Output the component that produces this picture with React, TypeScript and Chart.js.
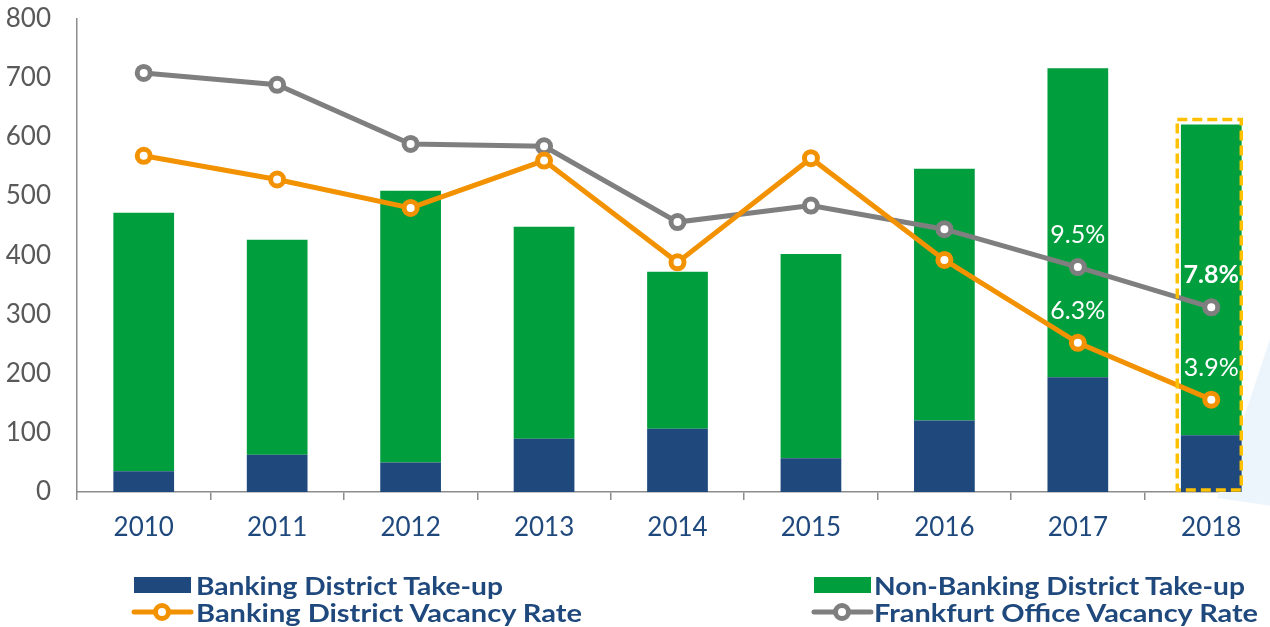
import React, { useEffect, useRef } from 'react';
import { Chart, registerables } from 'chart.js';

Chart.register(...registerables);

const years = ['2010', '2011', '2012', '2013', '2014', '2015', '2016', '2017', '2018'];
const bankingTakeUp = [35, 63, 50, 90, 107, 57, 121, 194, 96];
const nonBankingTakeUp = [437, 363, 459, 358, 265, 345, 425, 522, 525];
const bankingVacancy = [14.2, 13.2, 12.0, 14.0, 9.7, 14.1, 9.8, 6.3, 3.9];
const frankfurtVacancy = [17.7, 17.2, 14.7, 14.6, 11.4, 12.1, 11.1, 9.5, 7.8];
const yMax = 800;
const yStep = 100;
const rateMax = 20;
// which points carry a value label, and whether it is bold
const labelledPoints = [
  { series: 'frankfurt', index: 7, bold: false },
  { series: 'frankfurt', index: 8, bold: true },
  { series: 'banking', index: 7, bold: false },
  { series: 'banking', index: 8, bold: false },
];
const highlightIndex = 8;

const BLUE = '#1F497D';
const GREEN = '#009E3D';
const ORANGE = '#F39200';
const GREY = '#7F7F7F';
const AXIS = '#8C8C8C';
const FONT = 'Lato, "Open Sans", sans-serif';
const PLOT_TOP = 18.5;

export default function App() {
  const ref = useRef<HTMLCanvasElement | null>(null);

  useEffect(() => {
    if (!ref.current) return;

    const decoPlugin = {
      id: 'deco',
      beforeDatasetsDraw(chart: any) {
        const ctx = chart.ctx;
        ctx.save();
        ctx.fillStyle = '#EDF5FC';
        ctx.beginPath();
        ctx.moveTo(1272, 333);
        ctx.lineTo(1217, 498);
        ctx.lineTo(1272, 506);
        ctx.closePath();
        ctx.fill();
        ctx.restore();
      },
      afterDatasetsDraw(chart: any) {
        const ctx = chart.ctx;
        const xs = chart.scales.x;
        const ys = chart.scales.y;
        const y1 = chart.scales.y1;
        // highlight box around the last bar
        const cx = xs.getPixelForValue(highlightIndex);
        const total = bankingTakeUp[highlightIndex] + nonBankingTakeUp[highlightIndex];
        const top = ys.getPixelForValue(total) - 5;
        const bottom = ys.getPixelForValue(0) - 2;
        ctx.save();
        ctx.strokeStyle = '#FFC000';
        ctx.lineWidth = 3.5;
        ctx.setLineDash([10, 5]);
        ctx.strokeRect(cx - 34, top, 64, bottom - top);
        ctx.restore();
        // value labels
        ctx.save();
        ctx.fillStyle = '#FFFFFF';
        ctx.textAlign = 'center';
        ctx.textBaseline = 'middle';
        labelledPoints.forEach((p) => {
          const arr = p.series === 'frankfurt' ? frankfurtVacancy : bankingVacancy;
          const v = arr[p.index];
          ctx.font = `${p.bold ? 'bold ' : ''}25px ${FONT}`;
          ctx.fillText(`${v.toFixed(1)}%`, xs.getPixelForValue(p.index), y1.getPixelForValue(v) - 32);
        });
        ctx.restore();
      },
    };

    const chart = new Chart(ref.current, {
      type: 'bar',
      data: {
        labels: years,
        datasets: [
          {
            type: 'line',
            label: 'Frankfurt Office Vacancy Rate',
            data: frankfurtVacancy,
            yAxisID: 'y1',
            borderColor: GREY,
            borderWidth: 5,
            pointRadius: 6.5,
            pointBorderWidth: 5,
            pointBackgroundColor: '#FFFFFF',
            pointBorderColor: GREY,
            tension: 0,
            order: 1,
          } as any,
          {
            type: 'line',
            label: 'Banking District Vacancy Rate',
            data: bankingVacancy,
            yAxisID: 'y1',
            borderColor: ORANGE,
            borderWidth: 5,
            pointRadius: 6.5,
            pointBorderWidth: 5,
            pointBackgroundColor: '#FFFFFF',
            pointBorderColor: ORANGE,
            tension: 0,
            order: 0,
          } as any,
          {
            label: 'Banking District Take-up',
            data: bankingTakeUp,
            backgroundColor: BLUE,
            stack: 's',
            order: 3,
          },
          {
            label: 'Non-Banking District Take-up',
            data: nonBankingTakeUp,
            backgroundColor: GREEN,
            stack: 's',
            order: 3,
          },
        ],
      },
      options: {
        responsive: false,
        animation: false,
        layout: { autoPadding: false, padding: { top: 0, bottom: 75, left: 0, right: 12 } },
        datasets: { bar: { categoryPercentage: 1, barPercentage: 0.455 } },
        plugins: { legend: { display: false }, tooltip: { enabled: false } },
        scales: {
          x: {
            stacked: true,
            offset: true,
            grid: {
              display: true,
              drawOnChartArea: false,
              drawTicks: true,
              tickLength: 8,
              color: AXIS,
              lineWidth: 1.5,
              offset: true,
            },
            border: { display: true, color: AXIS, width: 1.5 },
            ticks: { color: BLUE, font: { family: FONT, size: 26 }, padding: 12 },
            afterFit: (s: any) => { s.height = 60; },
          },
          y: {
            stacked: true,
            min: 0,
            max: yMax,
            ticks: { stepSize: yStep, color: '#595959', font: { family: FONT, size: 26 }, padding: 26 },
            grid: { display: false, drawTicks: false },
            border: { display: true, color: AXIS, width: 1.5 },
            afterFit: (s: any) => {
              s.width = 77;
              s.paddingTop = PLOT_TOP;
              s.paddingBottom = 0;
            },
          },
          y1: { display: false, min: 0, max: rateMax },
        },
      },
      plugins: [decoPlugin],
    });
    return () => chart.destroy();
  }, []);

  const legendItems = [
    { text: 'Banking District Take-up', kind: 'box', color: BLUE, x: 134, textX: 196, y: 585, len: 307 },
    { text: 'Non-Banking District Take-up', kind: 'box', color: GREEN, x: 814, textX: 874, y: 585, len: 371 },
    { text: 'Banking District Vacancy Rate', kind: 'line', color: ORANGE, x: 134, textX: 196, y: 612, len: 386 },
    { text: 'Frankfurt Office Vacancy Rate', kind: 'line', color: GREY, x: 814, textX: 874, y: 612, len: 384 },
  ];

  return (
    <div
      style={{
        position: 'fixed',
        left: 0,
        top: 0,
        width: 1270,
        height: 627,
        overflow: 'hidden',
        background: '#fff',
      }}
    >
      <canvas ref={ref} width={1290} height={627} style={{ display: 'block' }} />
      <svg width={1270} height={627} style={{ position: 'absolute', left: 0, top: 0, pointerEvents: 'none' }}>
        {legendItems.map((it) => (
          <g key={it.text}>
            {it.kind === 'box' ? (
              <rect x={it.x} y={it.y - 8} width={57} height={16} fill={it.color} />
            ) : (
              <g>
                <line x1={it.x} y1={it.y} x2={it.x + 57} y2={it.y} stroke={it.color} strokeWidth={5} strokeLinecap="round" />
                <circle cx={it.x + 28} cy={it.y} r={6.5} fill="#fff" stroke={it.color} strokeWidth={5} />
              </g>
            )}
            <text
              x={it.textX}
              y={it.y}
              dominantBaseline="central"
              fontFamily={FONT}
              fontWeight={700}
              fontSize={25}
              fill={BLUE}
              textLength={it.len}
              lengthAdjust="spacingAndGlyphs"
            >
              {it.text}
            </text>
          </g>
        ))}
      </svg>
    </div>
  );
}
